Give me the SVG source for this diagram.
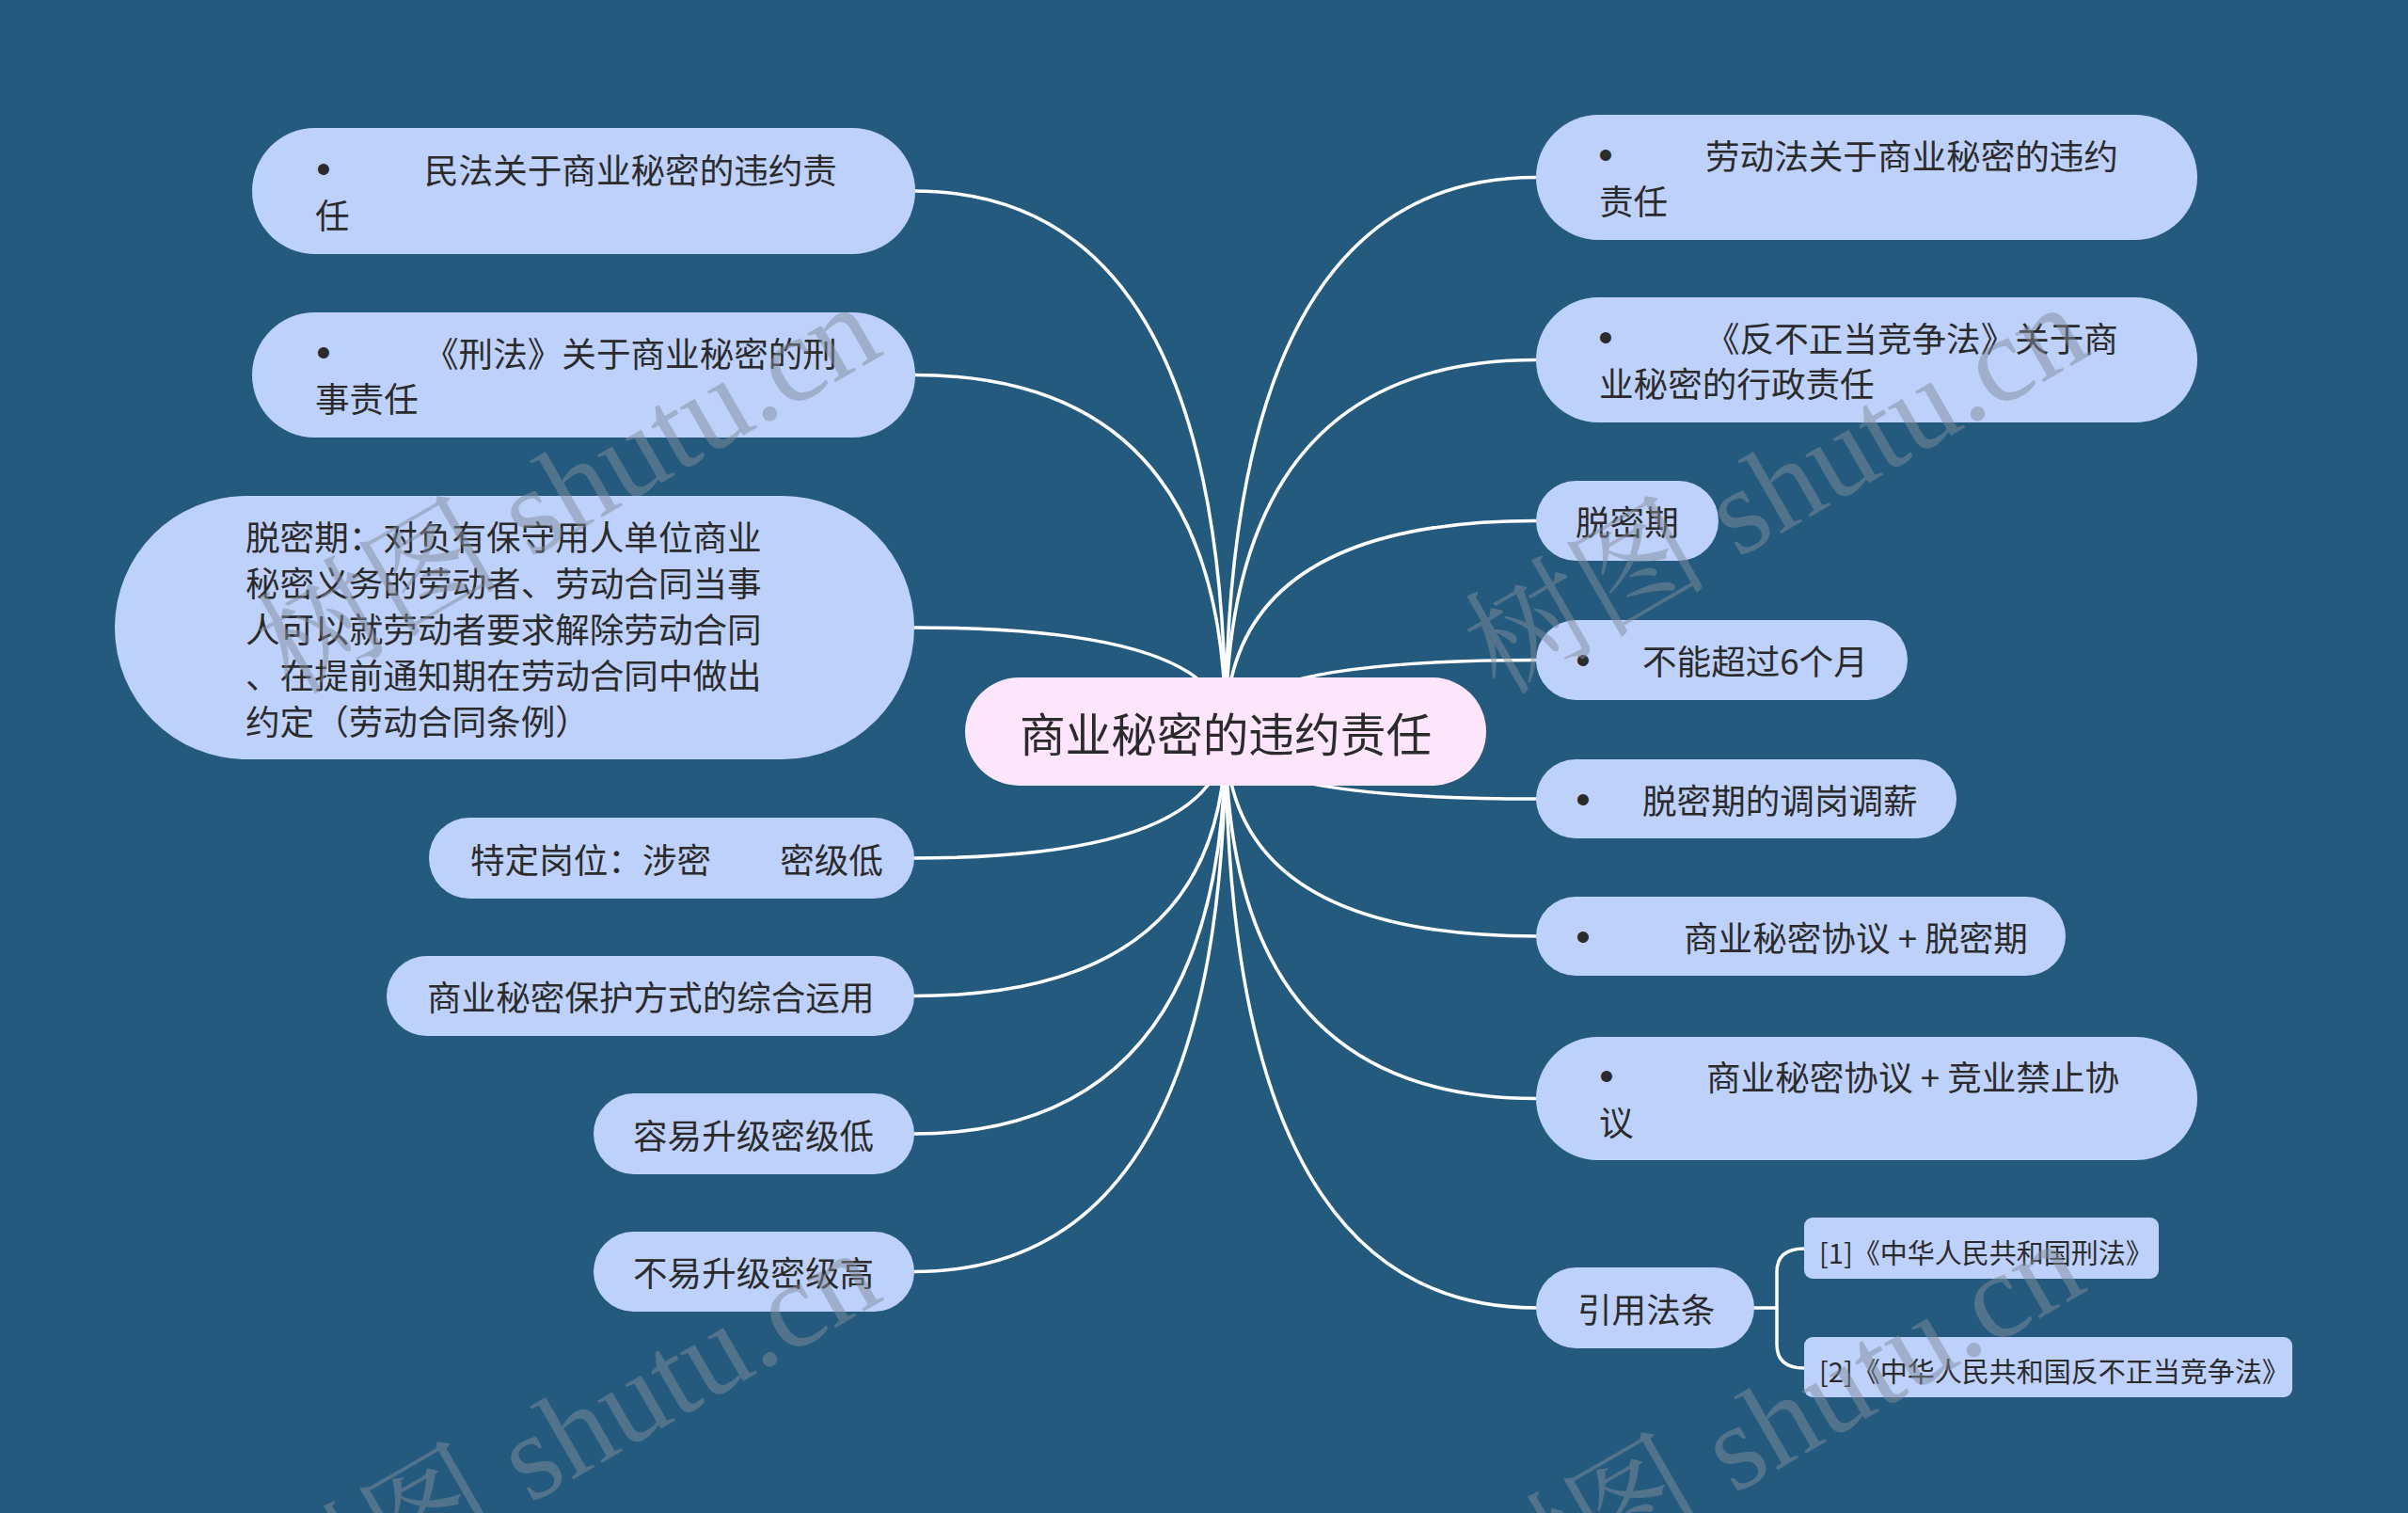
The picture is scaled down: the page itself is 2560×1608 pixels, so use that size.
<svg xmlns="http://www.w3.org/2000/svg" width="2560" height="1608" viewBox="0 0 2560 1608">
<style>
.bg{fill:#235a7d}
.node{fill:#bed1fb}
.center{fill:#fde6fb}
.t{font-family:"Noto Sans CJK SC","Noto Sans",sans-serif;font-size:36.6px;fill:#2b2b2b;dominant-baseline:central}
.b{font-family:"Liberation Sans","DejaVu Sans",sans-serif;font-size:44px;fill:#2b2b2b;dominant-baseline:central;text-anchor:middle}
.ct{font-family:"Noto Sans CJK SC","Noto Sans",sans-serif;font-size:48.7px;fill:#2b2b2b;dominant-baseline:central;text-anchor:middle}
.rt{font-family:"Noto Sans CJK SC","Noto Sans",sans-serif;font-size:29px;fill:#2b2b2b;dominant-baseline:central}
.link{fill:none;stroke:#ffffff;stroke-width:3.5;stroke-linecap:round}
.wm{font-family:"Liberation Serif","Noto Serif CJK SC","Noto Sans CJK SC",serif;font-size:130px;fill:#828c9b;opacity:0.5}
</style>
<rect class="bg" x="0" y="0" width="2560" height="1608"/>
<g id="connectors">
<path class="link" d="M972,203 Q1303,203 1303,778"/>
<path class="link" d="M972,398.5 Q1303,398.5 1303,778"/>
<path class="link" d="M972,667 Q1303,667 1303,778"/>
<path class="link" d="M972,912 Q1303,912 1303,778"/>
<path class="link" d="M972,1058.5 Q1303,1058.5 1303,778"/>
<path class="link" d="M972,1205 Q1303,1205 1303,778"/>
<path class="link" d="M972,1351.5 Q1303,1351.5 1303,778"/>
<path class="link" d="M1633,188.5 Q1303,188.5 1303,778"/>
<path class="link" d="M1633,382.5 Q1303,382.5 1303,778"/>
<path class="link" d="M1633,553.5 Q1303,553.5 1303,778"/>
<path class="link" d="M1633,701.5 Q1303,701.5 1303,778"/>
<path class="link" d="M1633,849 Q1303,849 1303,778"/>
<path class="link" d="M1633,995 Q1303,995 1303,778"/>
<path class="link" d="M1633,1167.5 Q1303,1167.5 1303,778"/>
<path class="link" d="M1633,1390 Q1303,1390 1303,778"/>
<path class="link" d="M1865,1390 H1889"/>
<path class="link" d="M1918,1327 Q1889,1327 1889,1352 V1429 Q1889,1454 1918,1454"/>
</g>
<g id="center">
<rect class="center" x="1026" y="720" width="554" height="115" rx="57.5"/>
<text class="ct" x="1303" y="778">商业秘密的违约责任</text>
</g>
<g id="n-minfa">
<rect class="node" x="268" y="136" width="705" height="134" rx="67"/>
<text class="b" x="344" y="179">•</text>
<text class="t" x="451" y="179">民法关于商业秘密的违约责</text>
<text class="t" x="335" y="227">任</text>
</g>
<g id="n-xingfa">
<rect class="node" x="268" y="332" width="705" height="133" rx="66.5"/>
<text class="b" x="344" y="374.5">•</text>
<text class="t" x="451" y="374.5">《刑法》关于商业秘密的刑</text>
<text class="t" x="335" y="422.5">事责任</text>
</g>
<g id="n-tuomiqi-def">
<rect class="node" x="122" y="527" width="850" height="280" rx="140"/>
<text class="t" x="261" y="569">脱密期：对负有保守用人单位商业</text>
<text class="t" x="261" y="618">秘密义务的劳动者、劳动合同当事</text>
<text class="t" x="261" y="667">人可以就劳动者要求解除劳动合同</text>
<text class="t" x="261" y="716">、在提前通知期在劳动合同中做出</text>
<text class="t" x="261" y="765">约定（劳动合同条例）</text>
</g>
<g id="n-gangwei">
<rect class="node" x="456" y="869" width="516" height="86" rx="43"/>
<text class="t" x="500" y="912" xml:space="preserve">特定岗位：涉密　　密级低</text>
</g>
<g id="n-zonghe">
<rect class="node" x="411" y="1016" width="561" height="85" rx="42.5"/>
<text class="t" x="454" y="1058.5">商业秘密保护方式的综合运用</text>
</g>
<g id="n-rongyi">
<rect class="node" x="631" y="1162" width="341" height="86" rx="43"/>
<text class="t" x="673" y="1205">容易升级密级低</text>
</g>
<g id="n-buyi">
<rect class="node" x="631" y="1309" width="341" height="85" rx="42.5"/>
<text class="t" x="673" y="1351.5">不易升级密级高</text>
</g>
<g id="n-laodongfa">
<rect class="node" x="1633" y="122" width="703" height="133" rx="66.5"/>
<text class="b" x="1707" y="164.5">•</text>
<text class="t" x="1813" y="164.5">劳动法关于商业秘密的违约</text>
<text class="t" x="1700" y="212.5">责任</text>
</g>
<g id="n-fanbuzhengdang">
<rect class="node" x="1633" y="316" width="703" height="133" rx="66.5"/>
<text class="b" x="1707" y="358.5">•</text>
<text class="t" x="1813" y="358.5">《反不正当竞争法》关于商</text>
<text class="t" x="1700" y="406.5">业秘密的行政责任</text>
</g>
<g id="n-tuomiqi">
<rect class="node" x="1633" y="511" width="194" height="85" rx="42.5"/>
<text class="t" x="1675" y="553.5">脱密期</text>
</g>
<g id="n-liugeyue">
<rect class="node" x="1633" y="659" width="395" height="85" rx="42.5"/>
<text class="b" x="1683" y="701.5">•</text>
<text class="t" x="1746" y="701.5">不能超过6个月</text>
</g>
<g id="n-tiaogang">
<rect class="node" x="1633" y="807" width="447" height="84" rx="42"/>
<text class="b" x="1683" y="849">•</text>
<text class="t" x="1746" y="849">脱密期的调岗调薪</text>
</g>
<g id="n-xieyi-tuomi">
<rect class="node" x="1633" y="953" width="563" height="84" rx="42"/>
<text class="b" x="1683" y="995">•</text>
<text class="t" x="1790" y="995" xml:space="preserve">商业秘密协议 + 脱密期</text>
</g>
<g id="n-xieyi-jingye">
<rect class="node" x="1633" y="1102" width="703" height="131" rx="65.5"/>
<text class="b" x="1708" y="1143.5">•</text>
<text class="t" x="1814" y="1143.5" xml:space="preserve">商业秘密协议 + 竞业禁止协</text>
<text class="t" x="1700" y="1191.5">议</text>
</g>
<g id="n-yinyong">
<rect class="node" x="1633" y="1347" width="232" height="86" rx="43"/>
<text class="t" x="1677" y="1390">引用法条</text>
</g>
<g id="n-ref1">
<rect class="node" x="1918" y="1294" width="377" height="65" rx="9"/>
<text class="rt" x="1934" y="1330">[1]《中华人民共和国刑法》</text>
</g>
<g id="n-ref2">
<rect class="node" x="1918" y="1421" width="519" height="64" rx="9"/>
<text class="rt" x="1934" y="1456">[2]《中华人民共和国反不正当竞争法》</text>
</g>
<g id="watermarks">
<text class="wm" transform="translate(310,740) rotate(-30)">树图 shutu.cn</text>
<text class="wm" transform="translate(1594,740) rotate(-30)">树图 shutu.cn</text>
<text class="wm" transform="translate(310,1745) rotate(-30)">树图 shutu.cn</text>
<text class="wm" transform="translate(1590,1735) rotate(-30)">树图 shutu.cn</text>
</g>
</svg>
